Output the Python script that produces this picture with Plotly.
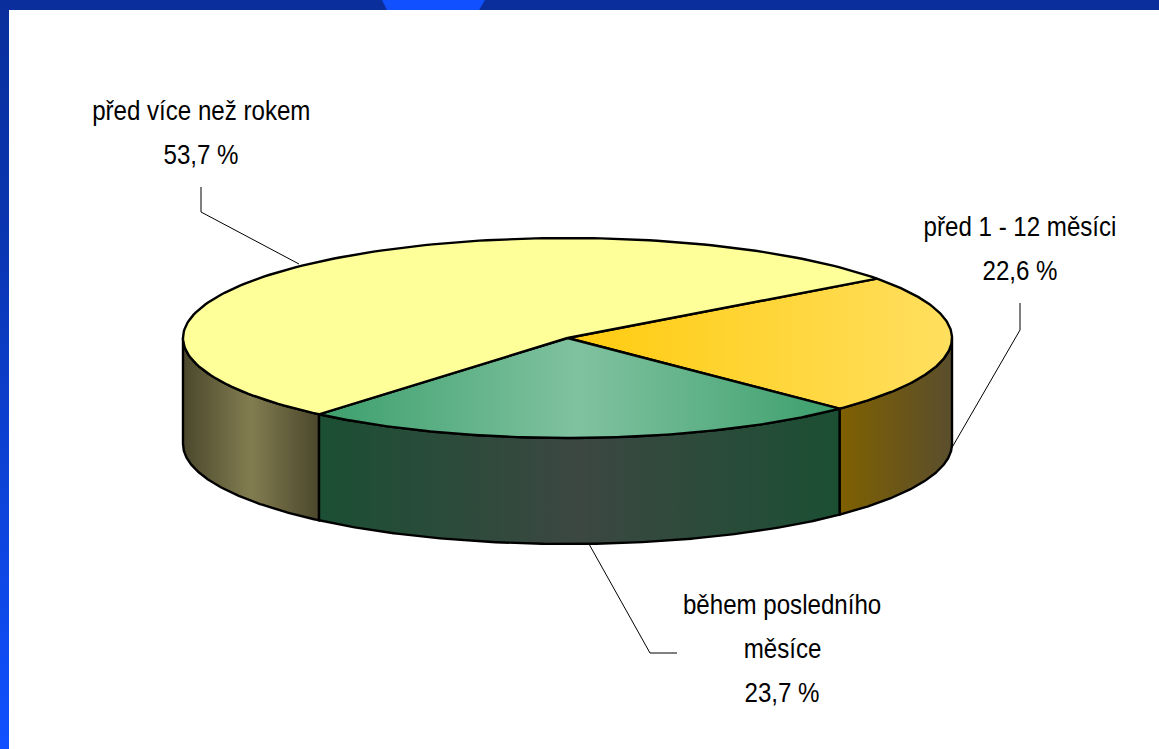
import numpy as np
import plotly.graph_objects as go

# Data
categories = ["před 1 - 12 měsíci", "během posledního měsíce", "před více než rokem"]
values = [22.6, 23.7, 53.7]
value_labels = ["22,6 %", "23,7 %", "53,7 %"]

# Colours per slice: top gradient and side gradient stops
top_colors = [
    ["#FFCB0E", "#FFDF5F"],
    ["#3C9F6C", "#80C2A0", "#3C9F6C"],
    ["#FFFF99", "#FFFF99"],
]
side_colors = [
    ["#7F6000", "#5A4E2D"],
    ["#1B4F33", "#3C4742", "#1B4F33"],
    ["#4B472C", "#827D50", "#4B472C"],
]

# Pie projection (pixel frame of the page)
W, H = 1159, 749
CX, CY, RX, RY, DEPTH = 567.5, 338.0, 384.5, 100.0, 106.0
START_DEG = 36.4


def arc(a1, a2, dy=0.0, n=160):
    t = np.radians(np.linspace(a1, a2, n))
    return CX + RX * np.cos(t), CY - RY * np.sin(t) + dy


def scale(stops):
    pos = np.linspace(0, 1, len(stops))
    return [[float(p), c] for p, c in zip(pos, stops)]


# Angles, running clockwise from the start angle
spans = [v / sum(values) * 360 for v in values]
ends = START_DEG - np.cumsum(spans)
starts = np.concatenate([[START_DEG], ends[:-1]])

fig = go.Figure()

# Frame bands
fig.add_trace(go.Scatter(
    x=[0, 9, 9, 0, 0], y=[0, 0, H, H, 0], mode="lines", fill="toself",
    line=dict(width=0), hoverinfo="skip",
    fillgradient=dict(type="vertical", colorscale=[[0, "#1050FF"], [0.7, "#0A35B0"], [1, "#0A2F9C"]]),
))
fig.add_shape(type="rect", x0=0, x1=W, y0=0, y1=10, fillcolor="#0A2F9C", line_width=0, layer="below")
fig.add_shape(type="path", path="M 382 0 L 485 0 L 479 10 L 387 10 Z", fillcolor="#1050FF", line_width=0, layer="above")

# Side walls: only the front half of the rim (angles between 180 and 360)
for i in range(len(values)):
    a_hi, a_lo = starts[i], ends[i]
    lo = max(a_lo, -180.0)
    hi = min(a_hi, 0.0)
    if a_lo < -180 or hi > lo:
        xt, yt = arc(hi, lo)
        xb, yb = arc(lo, hi, DEPTH)
        fig.add_trace(go.Scatter(
            x=np.concatenate([xt, xb, xt[:1]]), y=np.concatenate([yt, yb, yt[:1]]),
            mode="lines", fill="toself", hoverinfo="skip",
            line=dict(color="black", width=2.4),
            fillgradient=dict(type="horizontal", colorscale=scale(side_colors[i])),
        ))

# Top wedges
for i in range(len(values)):
    xa, ya = arc(starts[i], ends[i])
    fig.add_trace(go.Scatter(
        x=np.concatenate([[CX], xa, [CX]]), y=np.concatenate([[CY], ya, [CY]]),
        mode="lines", fill="toself", name=categories[i], hoverinfo="skip",
        line=dict(color="black", width=2.4),
        fillgradient=dict(type="horizontal", colorscale=scale(top_colors[i])),
    ))

# Leader lines
leaders = [
    ([1020, 1020, 950], [303, 330, 451]),
    ([589, 650, 677], [544, 653, 653]),
    ([201, 201, 299], [187, 212, 264]),
]
for lx, ly in leaders:
    fig.add_trace(go.Scatter(x=lx, y=ly, mode="lines", hoverinfo="skip",
                             line=dict(color="black", width=1)))

# Labels
label_lines = [
    (1020, 227, categories[0]),
    (1020, 271, value_labels[0]),
    (782, 605, "během posledního"),
    (782, 649, "měsíce"),
    (782, 693, value_labels[1]),
    (201, 111, categories[2]),
    (201, 155, value_labels[2]),
]
for x, y, t in label_lines:
    fig.add_annotation(x=x, y=y, text=t, showarrow=False, xanchor="center", yanchor="middle",
                       font=dict(family="Liberation Sans, Arial", size=27, color="black"))

fig.update_layout(
    width=W, height=H, margin=dict(l=0, r=0, t=0, b=0),
    paper_bgcolor="white", plot_bgcolor="white", showlegend=False,
    xaxis=dict(range=[0, W], visible=False, fixedrange=True),
    yaxis=dict(range=[H, 0], visible=False, fixedrange=True),
)

# The reference type is a condensed grotesque: squeeze the labels horizontally about their centres.
narrow_js = """
document.body.style.margin='0';
function narrowLabels(){
  document.querySelectorAll('.annotation-text').forEach(function(t){
    var x = parseFloat(t.getAttribute('x')) || 0;
    t.setAttribute('transform', 'translate('+x+',0) scale(0.893,1) translate('+(-x)+',0)');
  });
}
narrowLabels();
setTimeout(narrowLabels, 50);
"""
fig.write_html("out.html", config={"displayModeBar": False}, post_script=narrow_js)
